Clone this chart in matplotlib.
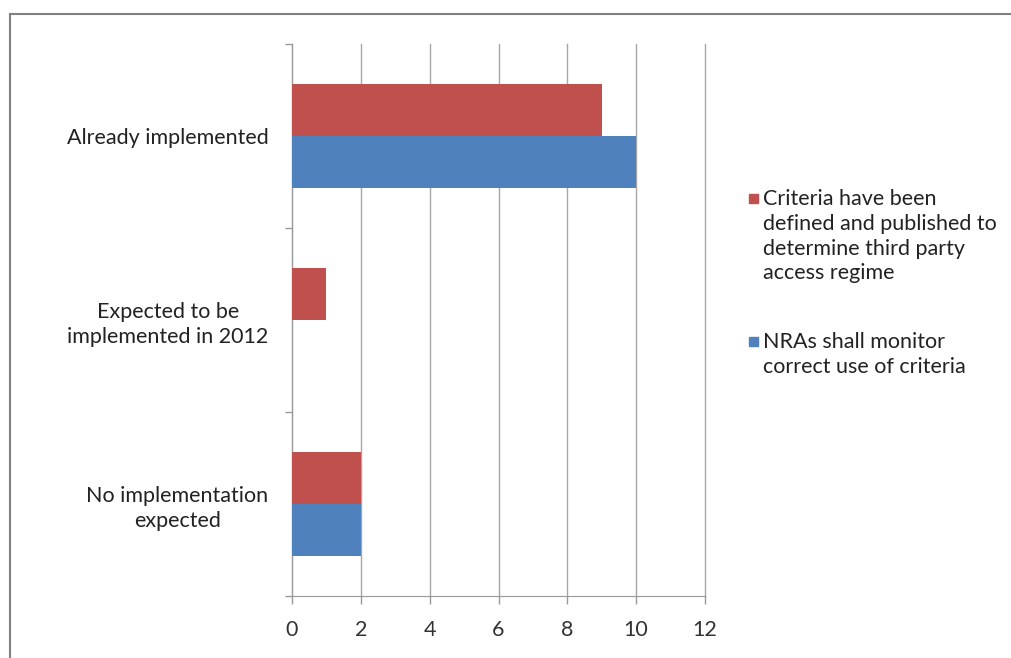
import matplotlib.pyplot as plt
import matplotlib.patches as mpatches
from matplotlib.lines import Line2D
import numpy as np

plt.rcParams['font.family'] = ['Lato', 'DejaVu Sans']

categories = ['Already implemented', 'Expected to be\nimplemented in 2012', 'No implementation\nexpected']
series_labels = ['Criteria have been\ndefined and published to\ndetermine third party\naccess regime',
                 'NRAs shall monitor\ncorrect use of criteria']
criteria_defined = [9, 1, 2]
nras_monitor = [10, 0, 2]
colors = ['#C0504D', '#4F81BD']
xticks = [0, 2, 4, 6, 8, 10, 12]

fig = plt.figure(figsize=(10.11, 6.58), dpi=100)
ax = fig.add_axes([292 / 1011, 1 - 596 / 658, 413 / 1011, 552 / 658])

y = np.arange(len(categories))
h = 0.283
ax.barh(y - h / 2, criteria_defined, height=h, color=colors[0], zorder=3)
ax.barh(y + h / 2, nras_monitor, height=h, color=colors[1], zorder=3)

ax.set_xlim(0, 12)
ax.set_ylim(len(categories) - 0.5, -0.5)
ax.set_xticks(xticks)
ax.set_xticklabels([str(t) for t in xticks], fontsize=15.5, color='#333333')
ax.set_yticks(y)
ax.set_yticklabels(categories, fontsize=15.5, color='#222222', multialignment='center',
                   linespacing=1.3)
ax.set_yticks(np.arange(-0.5, len(categories)), minor=True)
ax.tick_params(axis='y', which='major', length=0, pad=17)
ax.tick_params(axis='y', which='minor', length=5, color='#999999', width=1)
ax.tick_params(axis='x', length=6, color='#999999', width=1, pad=11)

ax.grid(axis='x', color='#a6a6a6', linewidth=1, zorder=0)
for gl in ax.xaxis.get_gridlines():
    gl.set_clip_on(False)
for s in ['top', 'right']:
    ax.spines[s].set_visible(False)
ax.spines['left'].set_color('#999999')
ax.spines['bottom'].set_color('#999999')

# legend drawn by hand so the square sits at the first line
leg_y = [199, 342]
for lab, c, ly in zip(series_labels, colors, leg_y):
    fig.patches.append(mpatches.Rectangle((749 / 1011, 1 - (ly + 4) / 658), 9 / 1011, 9 / 658,
                                          transform=fig.transFigure, color=c))
    fig.text(763 / 1011, 1 - (ly - 10) / 658, lab, fontsize=15.5, color='#222222',
             va='top', ha='left', linespacing=1.3)

# outer chart border (only top and left visible)
fig.add_artist(Line2D([10 / 1011, 10 / 1011], [0, 1 - 14 / 658], transform=fig.transFigure,
                      color='#808080', linewidth=1.5))
fig.add_artist(Line2D([10 / 1011, 1], [1 - 14 / 658, 1 - 14 / 658], transform=fig.transFigure,
                      color='#808080', linewidth=1.5))

fig.savefig('out.png', dpi=100)
